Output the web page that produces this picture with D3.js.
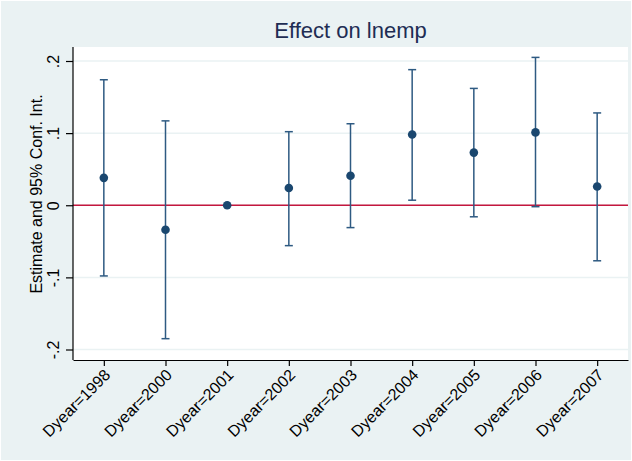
<!DOCTYPE html>
<html>
<head>
<meta charset="utf-8">
<script src="https://cdn.jsdelivr.net/npm/d3@7"></script>
<style>
  html, body { margin: 0; padding: 0; background: #fff; }
  svg { display: block; font-family: "Liberation Sans", Arial, sans-serif; }
</style>
</head>
<body>
<svg id="chart" width="632" height="461"></svg>
<script>
// data
const categories = ['Dyear=1998', 'Dyear=2000', 'Dyear=2001', 'Dyear=2002', 'Dyear=2003',
  'Dyear=2004', 'Dyear=2005', 'Dyear=2006', 'Dyear=2007'];
const estimates = [0.038, -0.034, 0, 0.024, 0.041, 0.098, 0.073, 0.101, 0.026];
const ciLower = [-0.098, -0.185, null, -0.056, -0.031, 0.007, -0.016, -0.002, -0.077];
const ciUpper = [0.174, 0.117, null, 0.102, 0.113, 0.188, 0.162, 0.205, 0.128];
const yTicks = [-0.2, -0.1, 0, 0.1, 0.2];
const yTickLabels = ['-.2', '-.1', '0', '.1', '.2'];

const W = 632, H = 461;
const margin = { top: 47, right: 4, bottom: 101, left: 73 };
const plotW = W - margin.left - margin.right;
const plotH = H - margin.top - margin.bottom;

const svg = d3.select('#chart');

// background
svg.append('rect').attr('width', W).attr('height', H).attr('fill', '#fff');
svg.append('rect').attr('x', 1).attr('y', 1).attr('width', W - 2).attr('height', H - 2)
  .attr('fill', '#eaf2f3');

// title
svg.append('text')
  .attr('x', margin.left + plotW / 2)
  .attr('y', 38)
  .attr('text-anchor', 'middle')
  .attr('fill', '#1e2d53')
  .attr('font-size', '22px')
  .text('Effect on lnemp');

const g = svg.append('g').attr('transform', `translate(${margin.left},${margin.top})`);

g.append('rect').attr('width', plotW).attr('height', plotH).attr('fill', '#fff');

const x = d3.scalePoint()
  .domain(categories)
  .range([0, plotW])
  .padding(0.5);

// 0 sits at 205.5 in the page, 0.1 = 72.2 px
const y = d3.scaleLinear()
  .domain([-0.2, 0.2])
  .range([349.5 - margin.top, 61 - margin.top]);

// gridlines
g.selectAll('.grid')
  .data(yTicks)
  .join('line')
  .attr('class', 'grid')
  .attr('x1', 0).attr('x2', plotW)
  .attr('y1', d => y(d)).attr('y2', d => y(d))
  .attr('stroke', '#eaf2f3')
  .attr('stroke-width', 1.5);

// zero reference line
g.append('line')
  .attr('x1', 0).attr('x2', plotW)
  .attr('y1', y(0)).attr('y2', y(0))
  .attr('stroke', '#c4173e')
  .attr('stroke-width', 1.5);

// y axis
const yAxis = g.append('g')
  .call(d3.axisLeft(y).tickValues(yTicks).tickSize(7).tickPadding(4)
    .tickFormat((d, i) => yTickLabels[i]));
yAxis.select('.domain').attr('stroke', '#000').attr('stroke-width', 1.2)
  .attr('d', `M0,0V${plotH}`);
yAxis.selectAll('.tick line').attr('stroke', '#000').attr('stroke-width', 1.2);
yAxis.selectAll('.tick text')
  .attr('font-size', '16px')
  .attr('fill', '#000')
  .attr('text-anchor', 'middle')
  .attr('x', null)
  .attr('transform', 'translate(-20,0) rotate(-90)')
  .attr('y', 0)
  .attr('dy', '0.35em');

// x axis
const xAxis = g.append('g')
  .attr('transform', `translate(0,${plotH})`)
  .call(d3.axisBottom(x).tickSize(6).tickSizeOuter(0));
xAxis.select('.domain').attr('stroke', '#000').attr('stroke-width', 1.2);
xAxis.selectAll('.tick line').attr('stroke', '#000').attr('stroke-width', 1.2);
xAxis.selectAll('.tick text')
  .attr('font-size', '16px')
  .attr('fill', '#000')
  .attr('text-anchor', 'end')
  .attr('y', 0).attr('dy', null)
  .attr('transform', 'translate(7,16) rotate(-45)');

// axis title
svg.append('text')
  .attr('transform', `translate(42,194) rotate(-90)`)
  .attr('text-anchor', 'middle')
  .attr('font-size', '16px')
  .attr('fill', '#000')
  .text('Estimate and 95% Conf. Int.');

// error bars
const rows = categories.map((c, i) => ({ c, est: estimates[i], lo: ciLower[i], hi: ciUpper[i] }));
const withCI = rows.filter(d => d.lo !== null);
const cap = 4;
const ciColor = '#2e5a82';

g.selectAll('.ci')
  .data(withCI)
  .join('line')
  .attr('class', 'ci')
  .attr('x1', d => x(d.c)).attr('x2', d => x(d.c))
  .attr('y1', d => y(d.lo)).attr('y2', d => y(d.hi))
  .attr('stroke', ciColor)
  .attr('stroke-width', 1.5);

g.selectAll('.cap-hi')
  .data(withCI)
  .join('line')
  .attr('class', 'cap-hi')
  .attr('x1', d => x(d.c) - cap).attr('x2', d => x(d.c) + cap)
  .attr('y1', d => y(d.hi)).attr('y2', d => y(d.hi))
  .attr('stroke', ciColor)
  .attr('stroke-width', 1.5);

g.selectAll('.cap-lo')
  .data(withCI)
  .join('line')
  .attr('class', 'cap-lo')
  .attr('x1', d => x(d.c) - cap).attr('x2', d => x(d.c) + cap)
  .attr('y1', d => y(d.lo)).attr('y2', d => y(d.lo))
  .attr('stroke', ciColor)
  .attr('stroke-width', 1.5);

// point estimates
g.selectAll('.pt')
  .data(rows)
  .join('circle')
  .attr('class', 'pt')
  .attr('cx', d => x(d.c))
  .attr('cy', d => y(d.est))
  .attr('r', 4.3)
  .attr('fill', '#1a476f');
</script>
</body>
</html>
